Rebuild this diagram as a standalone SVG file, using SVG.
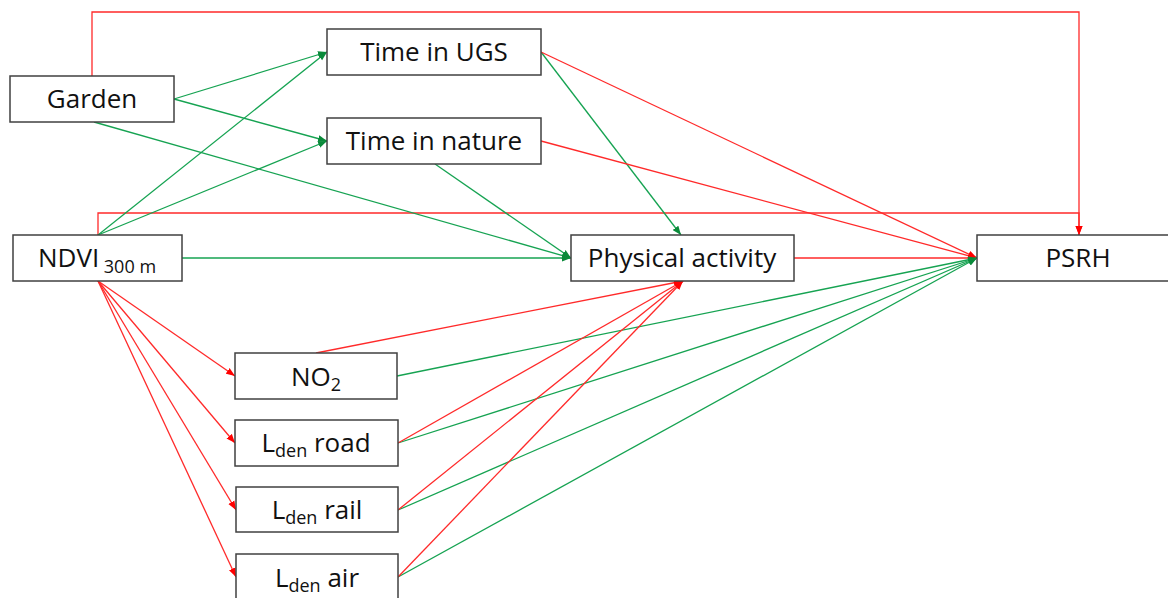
<svg xmlns="http://www.w3.org/2000/svg" width="1168" height="598" viewBox="0 0 1168 598">
<style>
.box{fill:#fff;stroke:#404040;stroke-width:1.5}
.t{font-family:"Open Sans","Liberation Sans",sans-serif;font-size:26px;fill:#111;text-anchor:middle}
.s{font-size:18px}
.r{fill:none;stroke:#ff2a2a;stroke-width:1.3}
.g{fill:none;stroke:#16a352;stroke-width:1.3}
.rm{marker-end:url(#ar)}
.gm{marker-end:url(#ag)}
</style>
<defs>
<marker id="ar" markerUnits="userSpaceOnUse" markerWidth="10" markerHeight="8" refX="9" refY="4" orient="auto"><path d="M0,0.5 L9,4 L0,7.5 z" fill="#ff0000"/></marker>
<marker id="ag" markerUnits="userSpaceOnUse" markerWidth="10" markerHeight="8" refX="9" refY="4" orient="auto"><path d="M0,0.5 L9,4 L0,7.5 z" fill="#0a8a3a"/></marker>
</defs>
<rect width="1168" height="598" fill="#fff"/>
<g id="connectors">
<polyline class="r rm" points="92,76 92,12 1079,12 1079,235"/>
<polyline class="r rm" points="98,235 98,213 1079,213 1079,235"/>
<line class="g gm" x1="174" y1="99" x2="327" y2="52"/>
<line class="g gm" x1="174" y1="99" x2="327" y2="141"/>
<line class="g gm" x1="94" y1="122" x2="571" y2="258"/>
<line class="g gm" x1="98" y1="235" x2="327" y2="52"/>
<line class="g gm" x1="98" y1="235" x2="327" y2="141"/>
<line class="g gm" x1="182" y1="258" x2="571" y2="258"/>
<line class="g gm" x1="541" y1="52" x2="681" y2="235"/>
<line class="g gm" x1="435" y1="164" x2="571" y2="258"/>
<line class="r rm" x1="541" y1="52" x2="977" y2="258"/>
<line class="r rm" x1="541" y1="141" x2="977" y2="258"/>
<line class="r rm" x1="794" y1="258" x2="977" y2="258"/>
<line class="g gm" x1="397" y1="376" x2="977" y2="258"/>
<line class="g gm" x1="398" y1="443" x2="977" y2="258"/>
<line class="g gm" x1="398" y1="510" x2="977" y2="258"/>
<line class="g gm" x1="398" y1="577" x2="977" y2="258"/>
<line class="r rm" x1="98" y1="281" x2="235" y2="376"/>
<line class="r rm" x1="98" y1="281" x2="235" y2="443"/>
<line class="r rm" x1="98" y1="281" x2="236" y2="510"/>
<line class="r rm" x1="98" y1="281" x2="236" y2="577"/>
<line class="r rm" x1="316" y1="353" x2="683" y2="281"/>
<line class="r rm" x1="398" y1="443" x2="683" y2="281"/>
<line class="r rm" x1="398" y1="510" x2="683" y2="281"/>
<line class="r rm" x1="398" y1="577" x2="683" y2="281"/>
</g>
<g id="garden"><rect class="box" x="10" y="76" width="164" height="46"/><text class="t" x="92" y="108">Garden</text></g>
<g id="time-ugs"><rect class="box" x="327" y="29" width="214" height="46"/><text class="t" x="434" y="61">Time in UGS</text></g>
<g id="time-nature"><rect class="box" x="327" y="118" width="214" height="46"/><text class="t" x="434" y="150">Time in nature</text></g>
<g id="ndvi"><rect class="box" x="13" y="235" width="169" height="46"/><text class="t" x="97" y="267">NDVI<tspan class="s" dy="6"> 300 m</tspan></text></g>
<g id="physical-activity"><rect class="box" x="571" y="235" width="223" height="46"/><text class="t" x="682" y="267">Physical activity</text></g>
<g id="psrh"><rect class="box" x="977" y="235" width="202" height="46"/><text class="t" x="1078" y="267">PSRH</text></g>
<g id="no2"><rect class="box" x="235" y="353" width="162" height="46"/><text class="t" x="316" y="386">NO<tspan class="s" dy="5">2</tspan></text></g>
<g id="lden-road"><rect class="box" x="235" y="420" width="163" height="46"/><text class="t" x="316" y="452">L<tspan class="s" dy="5">den</tspan><tspan dy="-5"> road</tspan></text></g>
<g id="lden-rail"><rect class="box" x="236" y="487" width="162" height="45"/><text class="t" x="317" y="519">L<tspan class="s" dy="5">den</tspan><tspan dy="-5"> rail</tspan></text></g>
<g id="lden-air"><rect class="box" x="236" y="554" width="162" height="48"/><text class="t" x="317" y="587">L<tspan class="s" dy="5">den</tspan><tspan dy="-5"> air</tspan></text></g>
</svg>
